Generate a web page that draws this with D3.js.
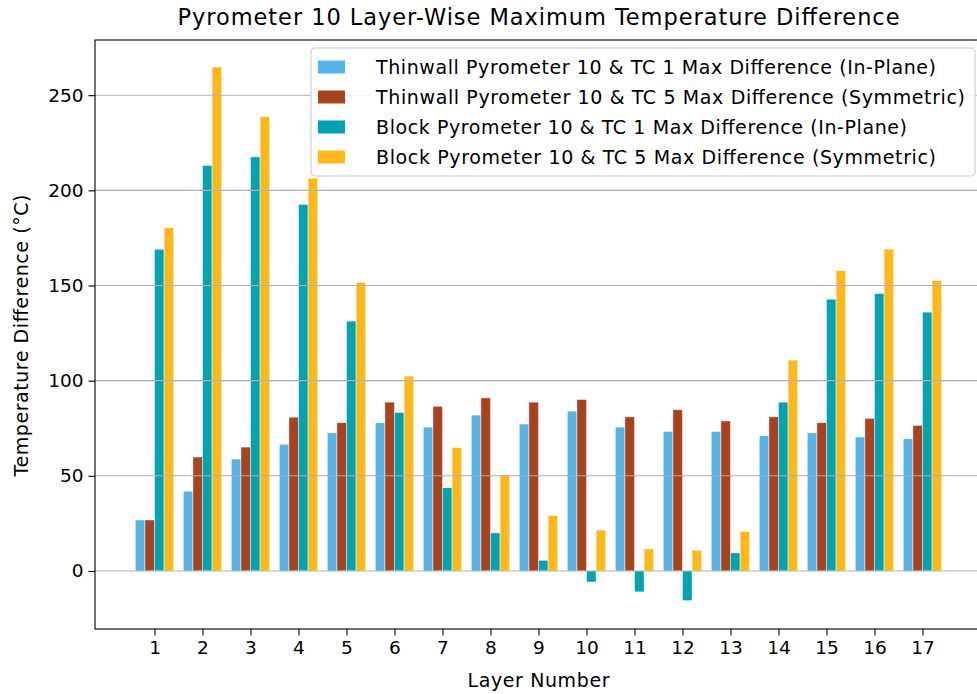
<!DOCTYPE html>
<html>
<head>
<meta charset="utf-8">
<script src="https://cdn.jsdelivr.net/npm/d3@7"></script>
<style>
  html, body { margin: 0; padding: 0; background: #fff; }
  svg { display: block; font-family: "DejaVu Sans", sans-serif; }
</style>
</head>
<body>
<svg id="chart" width="977" height="694"></svg>
<script>
// ---- data ----
const layers = [1, 2, 3, 4, 5, 6, 7, 8, 9, 10, 11, 12, 13, 14, 15, 16, 17];
const thinTC1 = [26.8, 41.9, 58.8, 66.6, 72.6, 77.9, 75.6, 81.9, 77.2, 84.0, 75.6, 73.3, 73.3, 71.1, 72.6, 70.4, 69.5];
const thinTC5 = [26.8, 59.9, 65.1, 80.8, 77.9, 88.7, 86.5, 91.0, 88.7, 90.1, 81.0, 84.7, 78.8, 81.0, 77.9, 80.2, 76.5];
const blockTC1 = [169.0, 213.1, 217.6, 192.6, 131.3, 83.3, 43.8, 20.0, 5.6, -5.8, -11.0, -15.6, 9.5, 88.7, 142.8, 145.8, 136.0];
const blockTC5 = [180.4, 264.8, 238.8, 206.4, 151.7, 102.4, 64.9, 50.1, 29.2, 21.5, 11.6, 10.9, 20.8, 110.8, 157.9, 169.1, 152.6];
const seriesNames = [
  "Thinwall Pyrometer 10 & TC 1 Max Difference (In-Plane)",
  "Thinwall Pyrometer 10 & TC 5 Max Difference (Symmetric)",
  "Block Pyrometer 10 & TC 1 Max Difference (In-Plane)",
  "Block Pyrometer 10 & TC 5 Max Difference (Symmetric)"
];
const seriesColors = ["#56b4e9", "#a8431f", "#00a3ae", "#ffb81c"];
const yTicks = [0, 50, 100, 150, 200, 250];

const series = [thinTC1, thinTC5, blockTC1, blockTC5];

// ---- layout ----
const svg = d3.select("#chart");
const plot = { left: 95, right: 982, top: 40, bottom: 629 };
const barW = 0.2;

const x = d3.scaleLinear().domain([-0.24, 18.24]).range([plot.left, plot.right]);
const y = d3.scaleLinear().domain([-30.5, 279]).range([plot.bottom, plot.top]);

// text widths in the reference are a bit wider than plain DejaVu (hinting)
const legendWidths = [560, 589, 531, 560];

// bars
series.forEach((vals, si) => {
  const off = (si - 1.5) * barW;
  svg.append("g")
    .selectAll("rect")
    .data(vals)
    .join("rect")
    .attr("x", (d, i) => x(layers[i] + off - barW / 2))
    .attr("width", (d, i) => x(layers[i] + off + barW / 2) - x(layers[i] + off - barW / 2))
    .attr("y", d => y(Math.max(0, d)))
    .attr("height", d => Math.abs(y(d) - y(0)))
    .attr("fill", seriesColors[si])
    .attr("stroke", "#fff")
    .attr("stroke-opacity", 0.6)
    .attr("stroke-width", 0.8);
});

// horizontal grid (on top of bars like matplotlib)
svg.append("g")
  .selectAll("line")
  .data(yTicks)
  .join("line")
  .attr("x1", plot.left).attr("x2", plot.right)
  .attr("y1", d => y(d)).attr("y2", d => y(d))
  .attr("stroke", "#b0b0b0")
  .attr("stroke-width", 1.1);

// axes
const yAxis = svg.append("g")
  .attr("transform", `translate(${plot.left},0)`)
  .call(d3.axisLeft(y).tickValues(yTicks).tickSize(6.5).tickPadding(5));
const xAxis = svg.append("g")
  .attr("transform", `translate(0,${plot.bottom})`)
  .call(d3.axisBottom(x).tickValues(layers).tickSize(6.5).tickPadding(5).tickFormat(d3.format("d")));

[yAxis, xAxis].forEach(a => {
  a.select(".domain").remove();
  a.selectAll(".tick line").attr("stroke", "#000").attr("stroke-width", 1.1);
  a.selectAll(".tick text").attr("font-size", 18.5).attr("fill", "#000")
    .attr("font-family", "DejaVu Sans, sans-serif");
});

// spines (right spine falls outside the picture)
svg.append("rect")
  .attr("x", plot.left).attr("y", plot.top)
  .attr("width", plot.right - plot.left).attr("height", plot.bottom - plot.top)
  .attr("fill", "none").attr("stroke", "#000").attr("stroke-width", 1.1);

// title and axis labels
svg.append("text")
  .attr("x", (plot.left + plot.right) / 2).attr("y", 25)
  .attr("text-anchor", "middle").attr("font-size", 22.5)
  .attr("textLength", 722).attr("lengthAdjust", "spacing")
  .text("Pyrometer 10 Layer-Wise Maximum Temperature Difference");

svg.append("text")
  .attr("x", (plot.left + plot.right) / 2).attr("y", 687)
  .attr("text-anchor", "middle").attr("font-size", 19)
  .attr("textLength", 142).attr("lengthAdjust", "spacing")
  .text("Layer Number");

svg.append("text")
  .attr("transform", `translate(28,${(plot.top + plot.bottom) / 2 + 1}) rotate(-90)`)
  .attr("text-anchor", "middle").attr("font-size", 19)
  .attr("textLength", 282).attr("lengthAdjust", "spacing")
  .text("Temperature Difference (°C)");

// legend
const legend = svg.append("g").attr("transform", "translate(311,48)");
legend.append("rect")
  .attr("width", 664).attr("height", 128).attr("rx", 4)
  .attr("fill", "#fff").attr("fill-opacity", 0.85)
  .attr("stroke", "#ccc").attr("stroke-width", 1.1);
seriesNames.forEach((name, i) => {
  const row = legend.append("g").attr("transform", `translate(0,${19 + i * 30})`);
  row.append("rect")
    .attr("x", 7).attr("y", -6.5).attr("width", 27).attr("height", 13)
    .attr("fill", seriesColors[i]);
  row.append("text")
    .attr("x", 65).attr("y", 6.5).attr("font-size", 19)
    .attr("textLength", legendWidths[i]).attr("lengthAdjust", "spacing")
    .text(name);
});
</script>
</body>
</html>
